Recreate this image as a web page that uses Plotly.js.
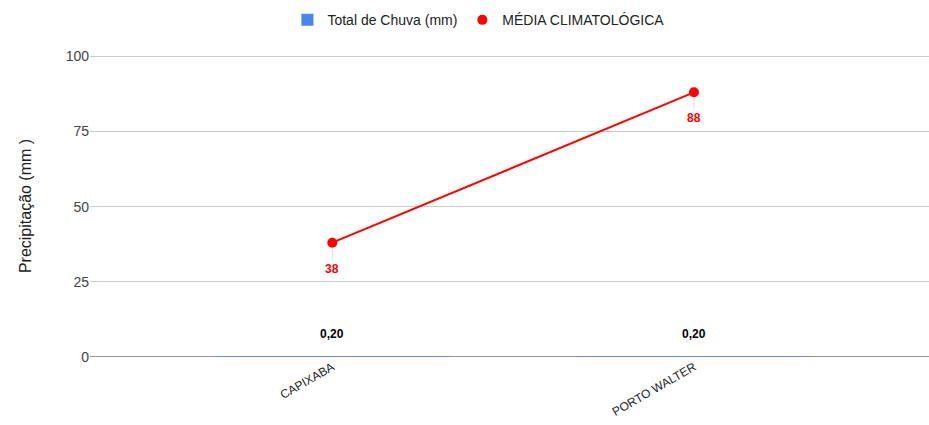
<!DOCTYPE html>
<html><head><meta charset="utf-8">
<script src="https://cdn.plot.ly/plotly-3.0.1.min.js"></script>
<style>body{margin:0;background:#fff}#c{width:929px;height:425px}</style>
</head><body><div id="c"></div>
<script>
const categories = ["CAPIXABA", "PORTO WALTER"];
const totalChuva = [0.2, 0.2];
const mediaClimatologica = [38, 88];
const totalLabels = ["0,20", "0,20"];
const yTicks = [0, 25, 50, 75, 100];

const font = "Liberation Sans, Arial, sans-serif";
const traces = [
  {type:"bar", name:"Total de Chuva (mm)", x:categories, y:totalChuva,
   marker:{color:"#4a86e8"}, width:0.65, hoverinfo:"skip"},
  {type:"scatter", mode:"lines", name:"MÉDIA CLIMATOLÓGICA", x:categories, y:mediaClimatologica,
   line:{color:"#ff0000", width:2}, showlegend:false},
  {type:"scatter", mode:"markers", name:"MÉDIA CLIMATOLÓGICA", x:categories, y:mediaClimatologica,
   marker:{color:"#ff0000", size:10}}
];
const annotations = [];
categories.forEach((c,i)=>{
  annotations.push({x:c, y:totalChuva[i], text:"<b>"+totalLabels[i]+"</b>", showarrow:false,
    yshift:22, font:{family:font, size:12, color:"#000"}});
  annotations.push({x:c, y:mediaClimatologica[i], text:"<b>"+mediaClimatologica[i]+"</b>", showarrow:true,
    arrowhead:0, arrowwidth:1, arrowcolor:"#e0e0e0", ax:0, ay:26, standoff:5,
    font:{family:font, size:12, color:"#ff0000"}});
});
const layout = {
  width:929, height:425, margin:{l:90, r:0, t:55, b:68},
  paper_bgcolor:"#fff", plot_bgcolor:"#fff",
  font:{family:font, size:14, color:"#222"},
  showlegend:true,
  legend:{orientation:"h", x:0.515, xanchor:"center", xref:"container", y:0.99, yanchor:"top", yref:"container",
    font:{family:font, size:14, color:"#222"}, traceorder:"normal", itemwidth:30},
  xaxis:{type:"category", range:[-0.67, 1.65], showgrid:false, zeroline:false, showline:false,
    tickangle:-30, tickfont:{family:font, size:12, color:"#222"}, ticks:""},
  yaxis:{range:[0,100.4], tickvals:yTicks, showgrid:true, gridcolor:"#cccccc", zeroline:false,
    showline:false, tickfont:{family:font, size:14, color:"#444"},
    title:{text:"Precipitação (mm )", font:{family:font, size:16, color:"#222"}, standoff:30}},
  shapes:[{type:"line", xref:"paper", yref:"y", x0:0, x1:1, y0:0, y1:0, line:{color:"#333", width:1}, layer:"below"}],
  annotations:annotations,
  bargap:0.35
};
Plotly.newPlot("c", traces, layout, {displayModeBar:false, staticPlot:true});
</script></body></html>
